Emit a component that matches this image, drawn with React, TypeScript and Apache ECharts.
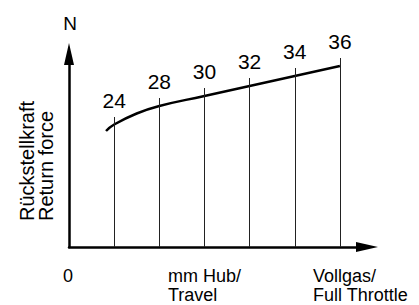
import React, { useEffect, useRef } from "react";
import * as echarts from "echarts";

// Travel positions (index along the travel axis) and tick labels (mm)
const tickLabels = ["24", "28", "30", "32", "34", "36"];
const tickPositions = [1, 2, 3, 4, 5, 6];
// Height of each vertical marker line (relative force units)
const markerTops = [130, 149, 159, 169, 179, 189];
// Return-force curve (travel index, relative force)
const curveX = [0.82, 1, 1.5, 2, 3, 4, 5, 6];
const curveY = [116, 122.5, 133.5, 141, 151, 161, 171, 181];

const FONT = "'Liberation Sans', Arial, Helvetica, sans-serif";

export default function App() {
  const ref = useRef<HTMLDivElement>(null);
  useEffect(() => {
    if (!ref.current) return;
    const chart = echarts.init(ref.current, undefined, { renderer: "svg" });
    chart.setOption({
      animation: false,
      backgroundColor: "#fff",
      grid: { left: 69, right: 52, top: 54, bottom: 58 },
      xAxis: {
        type: "value",
        min: 0,
        max: 6.6,
        axisLine: {
          show: true,
          symbol: ["none", "triangle"],
          symbolSize: [10, 22],
          lineStyle: { color: "#000", width: 2.5 },
        },
        axisTick: { show: false },
        axisLabel: { show: false },
        splitLine: { show: false },
      },
      yAxis: {
        type: "value",
        min: 0,
        max: 193,
        axisLine: {
          show: true,
          symbol: ["none", "triangle"],
          symbolSize: [10, 22],
          lineStyle: { color: "#000", width: 2.5 },
        },
        axisTick: { show: false },
        axisLabel: { show: false },
        splitLine: { show: false },
      },
      graphic: [
        {
          type: "text",
          x: 70,
          y: 23,
          style: { text: "N", font: `19px ${FONT}`, fill: "#000", textAlign: "center", textVerticalAlign: "middle" },
        },
        {
          type: "text",
          x: 36,
          y: 221,
          rotation: Math.PI / 2,
          style: {
            text: "Rückstellkraft\nReturn force",
            font: `20px ${FONT}`,
            lineHeight: 19,
            fill: "#000",
            textAlign: "left",
            textVerticalAlign: "middle",
          },
        },
        {
          type: "text",
          x: 68,
          y: 276,
          style: { text: "0", font: `18px ${FONT}`, fill: "#000", textAlign: "center", textVerticalAlign: "middle" },
        },
        {
          type: "text",
          x: 168,
          y: 266,
          style: { text: "mm Hub/\nTravel", font: `18px ${FONT}`, lineHeight: 19, fill: "#000", textAlign: "left", textVerticalAlign: "top" },
        },
        {
          type: "text",
          x: 313,
          y: 266,
          style: { text: "Vollgas/\nFull Throttle", font: `18px ${FONT}`, lineHeight: 19, fill: "#000", textAlign: "left", textVerticalAlign: "top" },
        },
      ],
      series: [
        {
          type: "line",
          data: curveX.map((x, i) => [x, curveY[i]]),
          smooth: 0.5,
          showSymbol: false,
          lineStyle: { color: "#000", width: 2.5 },
          markLine: {
            silent: true,
            symbol: ["none", "none"],
            lineStyle: { color: "#222", width: 1, type: "solid" },
            label: {
              show: true,
              position: "end",
              distance: 6,
              formatter: (p: any) => p.name,
              fontFamily: FONT,
              fontSize: 21,
              color: "#000",
            },
            data: tickPositions.map((x, i) => [
              { name: tickLabels[i], coord: [x, 0] },
              { coord: [x, markerTops[i]] },
            ]),
          },
        },
      ],
    });
    return () => chart.dispose();
  }, []);
  return <div ref={ref} style={{ width: 419, height: 305, position: "absolute", left: 0, top: 0 }} />;
}
